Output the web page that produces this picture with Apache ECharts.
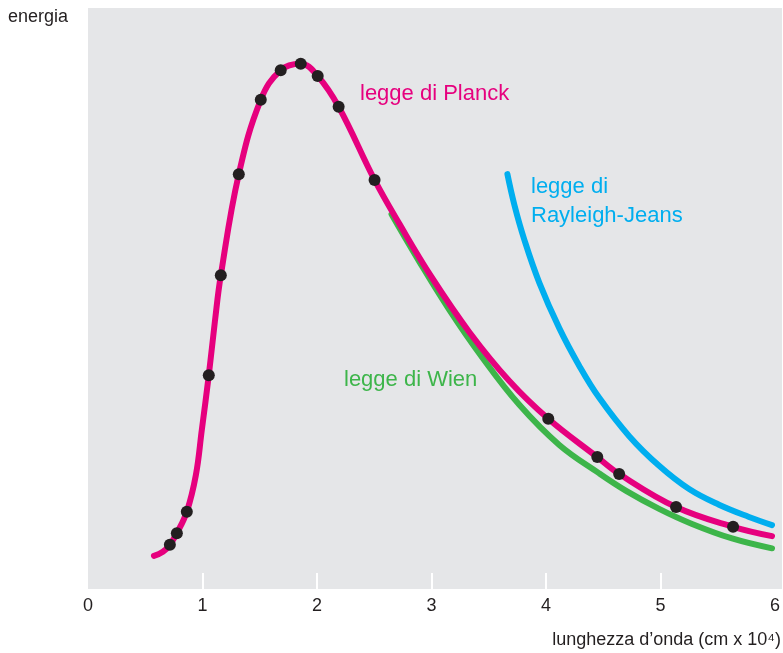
<!DOCTYPE html>
<html>
<head>
<meta charset="utf-8">
<script src="https://cdn.jsdelivr.net/npm/echarts@6/dist/echarts.min.js"></script>
<style>html,body{margin:0;padding:0;background:#fff}#c{width:783px;height:653px}</style>
</head>
<body>
<div id="c"></div>
<script>
// x tick labels
const xTicks = [0, 1, 2, 3, 4, 5, 6];
// Planck curve (smooth line)
const planckX = [0.576,0.654,0.715,0.776,0.863,0.942,0.994,1.055,1.108,1.160,1.317,1.509,1.683,1.858,2.006,2.189,2.503,2.721,3.000,3.331,3.680,4.020,4.448,4.639,5.136,5.634,5.974];
const planckY = [5.7,6.4,7.6,9.6,13.3,19.6,27.4,36.8,46.0,54.0,71.4,84.2,89.3,90.4,88.3,83.0,70.4,62.8,53.7,44.2,35.8,29.3,22.7,19.8,14.1,10.7,9.1];
// measured points (black dots)
const dotX = [0.715,0.776,0.863,1.055,1.160,1.317,1.509,1.683,1.858,2.006,2.189,2.503,4.020,4.448,4.639,5.136,5.634];
const dotY = [7.6,9.6,13.3,36.8,54.0,71.4,84.2,89.3,90.4,88.3,83.0,70.4,29.3,22.7,19.8,14.1,10.7];
// Wien law
const wienX = [2.651,2.895,3.157,3.445,3.767,4.116,4.465,4.700,4.988,5.276,5.625,5.974];
const wienY = [64.5,56.3,48.0,39.8,31.7,24.8,19.9,16.9,13.8,11.2,8.7,7.0];
// Rayleigh-Jeans law
const rjX = [3.663,3.724,3.811,3.942,4.116,4.291,4.465,4.727,4.988,5.250,5.511,5.773,5.974];
const rjY = [71.4,66.1,60.1,52.7,44.9,38.4,32.9,26.3,21.2,17.2,14.5,12.4,11.0];

const zip = (a, b) => a.map((v, i) => [v, b[i]]);
const FONT = '"Liberation Sans", Arial, sans-serif';
const PINK = '#e6007e', BLUE = '#00aeef', GREEN = '#3db54a', DARK = '#231f20';

const chart = echarts.init(document.getElementById('c'), null, {renderer: 'canvas'});
chart.setOption({
  animation: false,
  grid: {left: 88, right: 0, top: 8, bottom: 64, show: true, backgroundColor: '#e5e6e8', borderWidth: 0},
  xAxis: {
    type: 'value', min: 0, max: 6.061,
    axisLine: {show: false},
    splitLine: {show: false},
    axisTick: {show: true, inside: true, length: 16, lineStyle: {color: '#ffffff', width: 2}, customValues: [1,2,3,4,5]},
    axisLabel: {customValues: xTicks, color: DARK, fontSize: 18, fontFamily: FONT, margin: 8}
  },
  yAxis: {type: 'value', min: 0, max: 100, show: false},
  graphic: [
    {type: 'text', left: 8, top: 8, style: {text: 'energia', fontSize: 18, fontFamily: FONT, fill: DARK}},
    {type: 'text', right: 2, top: 631, style: {text: 'lunghezza d’onda (cm x 10⁴)', fontSize: 18, fontFamily: FONT, fill: DARK}},
    {type: 'text', left: 360, top: 83, z: 10, style: {text: 'legge di Planck', fontSize: 22, fontFamily: FONT, fill: PINK}},
    {type: 'text', left: 531, top: 172, z: 10, style: {text: 'legge di\nRayleigh-Jeans', fontSize: 22, lineHeight: 29, fontFamily: FONT, fill: BLUE}},
    {type: 'text', left: 344, top: 369, z: 10, style: {text: 'legge di Wien', fontSize: 22, fontFamily: FONT, fill: GREEN}}
  ],
  series: [
    {type: 'line', data: zip(wienX, wienY), smooth: 0.4, showSymbol: false, symbol: 'none', z: 2,
     lineStyle: {color: GREEN, width: 6, cap: 'round'}},
    {type: 'line', data: zip(rjX, rjY), smooth: 0.4, showSymbol: false, symbol: 'none', z: 2,
     lineStyle: {color: BLUE, width: 6, cap: 'round'}},
    {type: 'line', data: zip(planckX, planckY), smooth: 0.4, showSymbol: false, symbol: 'none', z: 3,
     lineStyle: {color: PINK, width: 6, cap: 'round'}},
    {type: 'scatter', data: zip(dotX, dotY), symbol: 'circle', symbolSize: 12, z: 4,
     itemStyle: {color: DARK, opacity: 1}}
  ]
});
</script>
</body>
</html>
